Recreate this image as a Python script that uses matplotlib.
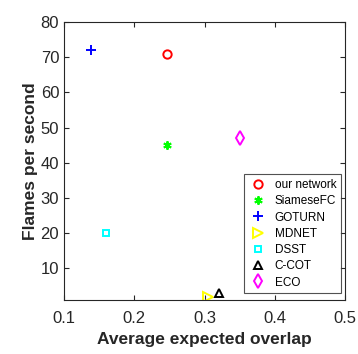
import matplotlib.pyplot as plt

plt.rcParams['font.family'] = ['Liberation Sans', 'DejaVu Sans']

# Data
methods = ['our network', 'SiameseFC', 'GOTURN', 'MDNET', 'DSST', 'C-COT', 'ECO']
overlap = [0.246, 0.247, 0.139, 0.305, 0.159, 0.321, 0.350]
fps = [71, 45, 72, 2, 20, 3, 47]
markers = ['o', (6, 2, 0), '+', '>', 's', '^', 'd']
colors = ['red', '#00ff00', 'blue', 'yellow', 'cyan', 'black', 'magenta']
sizes = [6, 6, 7, 6.5, 4.5, 6, 7]

fig = plt.figure(figsize=(3.58, 3.54), dpi=100)
ax = fig.add_axes([0.179, 0.152, 0.785, 0.786])

for i in range(len(methods)):
    ax.plot(overlap[i], fps[i], marker=markers[i], color=colors[i],
            markerfacecolor='none', markersize=sizes[i],
            markeredgewidth=1.4, linestyle='none', label=methods[i])

ax.set_xlim(0.1, 0.5)
ax.set_ylim(1, 80)
ax.set_xticks([0.1, 0.2, 0.3, 0.4, 0.5])
ax.set_yticks([10, 20, 30, 40, 50, 60, 70, 80])
ax.tick_params(direction='in', top=True, right=True, length=3.5,
               labelsize=12, colors='#262626', width=0.8)
ax.tick_params(axis='x', pad=8)
for s in ax.spines.values():
    s.set_color('#262626')
    s.set_linewidth(0.8)

ax.set_xlabel('Average expected overlap', fontsize=12.5, fontweight='bold',
              color='#262626', labelpad=4)
ax.set_ylabel('Flames per second', fontsize=12.5, fontweight='bold',
              color='#262626', labelpad=2)

leg = ax.legend(loc='lower right', fontsize=8.5, frameon=True, fancybox=False,
                edgecolor='#262626', handletextpad=0.6, borderpad=0.4,
                labelspacing=0.36, handlelength=1.6, borderaxespad=0,
                bbox_to_anchor=(0.985, 0.025))
leg.get_frame().set_linewidth(0.8)

fig.savefig('out.png', dpi=100)
